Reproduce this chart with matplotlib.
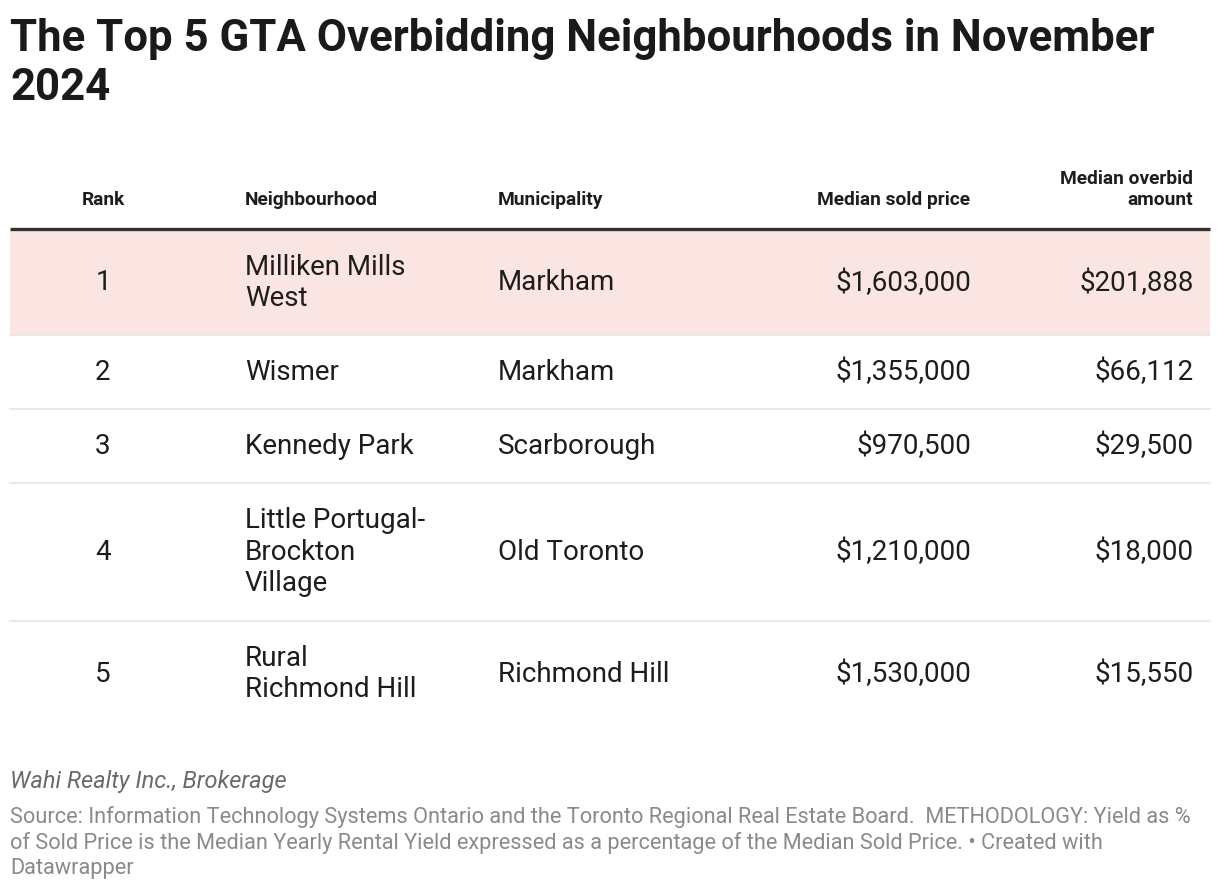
import matplotlib.pyplot as plt

plt.rcParams['font.family'] = ['Roboto', 'DejaVu Sans']

ranks = [1, 2, 3, 4, 5]
neighbourhoods = ['Milliken Mills\nWest', 'Wismer', 'Kennedy Park',
                  'Little Portugal-\nBrockton\nVillage', 'Rural\nRichmond Hill']
municipalities = ['Markham', 'Markham', 'Scarborough', 'Old Toronto', 'Richmond Hill']
sold_prices = [1603000, 1355000, 970500, 1210000, 1530000]
overbids = [201888, 66112, 29500, 18000, 15550]

headers = ['Rank', 'Neighbourhood', 'Municipality', 'Median sold price', 'Median overbid\namount']

W, H = 1220, 892
fig = plt.figure(figsize=(W / 100, H / 100), dpi=100)
ax = fig.add_axes([0, 0, 1, 1])
ax.set_xlim(0, W)
ax.set_ylim(H, 0)
ax.axis('off')

dark = '#1d1d1d'

# title
ax.text(10, 100, 'The Top 5 GTA Overbidding Neighbourhoods in November\n2024',
        fontsize=31.5, fontweight='bold', color='#1a1a1a', va='baseline', ha='left',
        linespacing=1.2)

# header
hx = [(103, 'center'), (245, 'left'), (498, 'left'), (970, 'right'), (1193, 'right')]
for (x, ha), h in zip(hx, headers):
    ax.text(x, 205, h, fontsize=13.8, fontweight='bold', color=dark,
            ha=ha, va='baseline', linespacing=1.25)

ax.plot([10, 1210], [229, 229], color='#333333', lw=2.4, solid_capstyle='butt')

y = 231
for i in range(len(ranks)):
    nl = neighbourhoods[i].count('\n') + 1
    hgt = 42 + 32 * nl
    if i == 0:
        hgt = 104
        ax.fill_between([10, 1210], y, y + hgt, color='#fbe5e3', lw=0)
    yc = y + hgt / 2
    kw = dict(fontsize=20.0, color=dark, va='center', linespacing=1.2)
    ax.text(103, yc, str(ranks[i]), ha='center', **kw)
    ax.text(245, yc, neighbourhoods[i], ha='left', **kw)
    ax.text(498, yc, municipalities[i], ha='left', **kw)
    ax.text(971, yc, f'${sold_prices[i]:,}', ha='right', **kw)
    ax.text(1194, yc, f'${overbids[i]:,}', ha='right', **kw)
    y += hgt
    if i < len(ranks) - 1:
        ax.plot([10, 1210], [y, y], color='#e5e5e5', lw=1.2)

ax.text(10, 788, 'Wahi Realty Inc., Brokerage', fontsize=17, style='italic',
        color='#6a6a6a', va='baseline')
ax.text(10, 806, 'Source: Information Technology Systems Ontario and the Toronto Regional Real Estate Board.  '
        'METHODOLOGY: Yield as %\nof Sold Price is the Median Yearly Rental Yield expressed as a '
        'percentage of the Median Sold Price. • Created with\nDatawrapper',
        fontsize=15.7, color='#8a8a8a', va='top', ha='left', linespacing=1.25)

fig.savefig('out.png', dpi=100, facecolor='white')
